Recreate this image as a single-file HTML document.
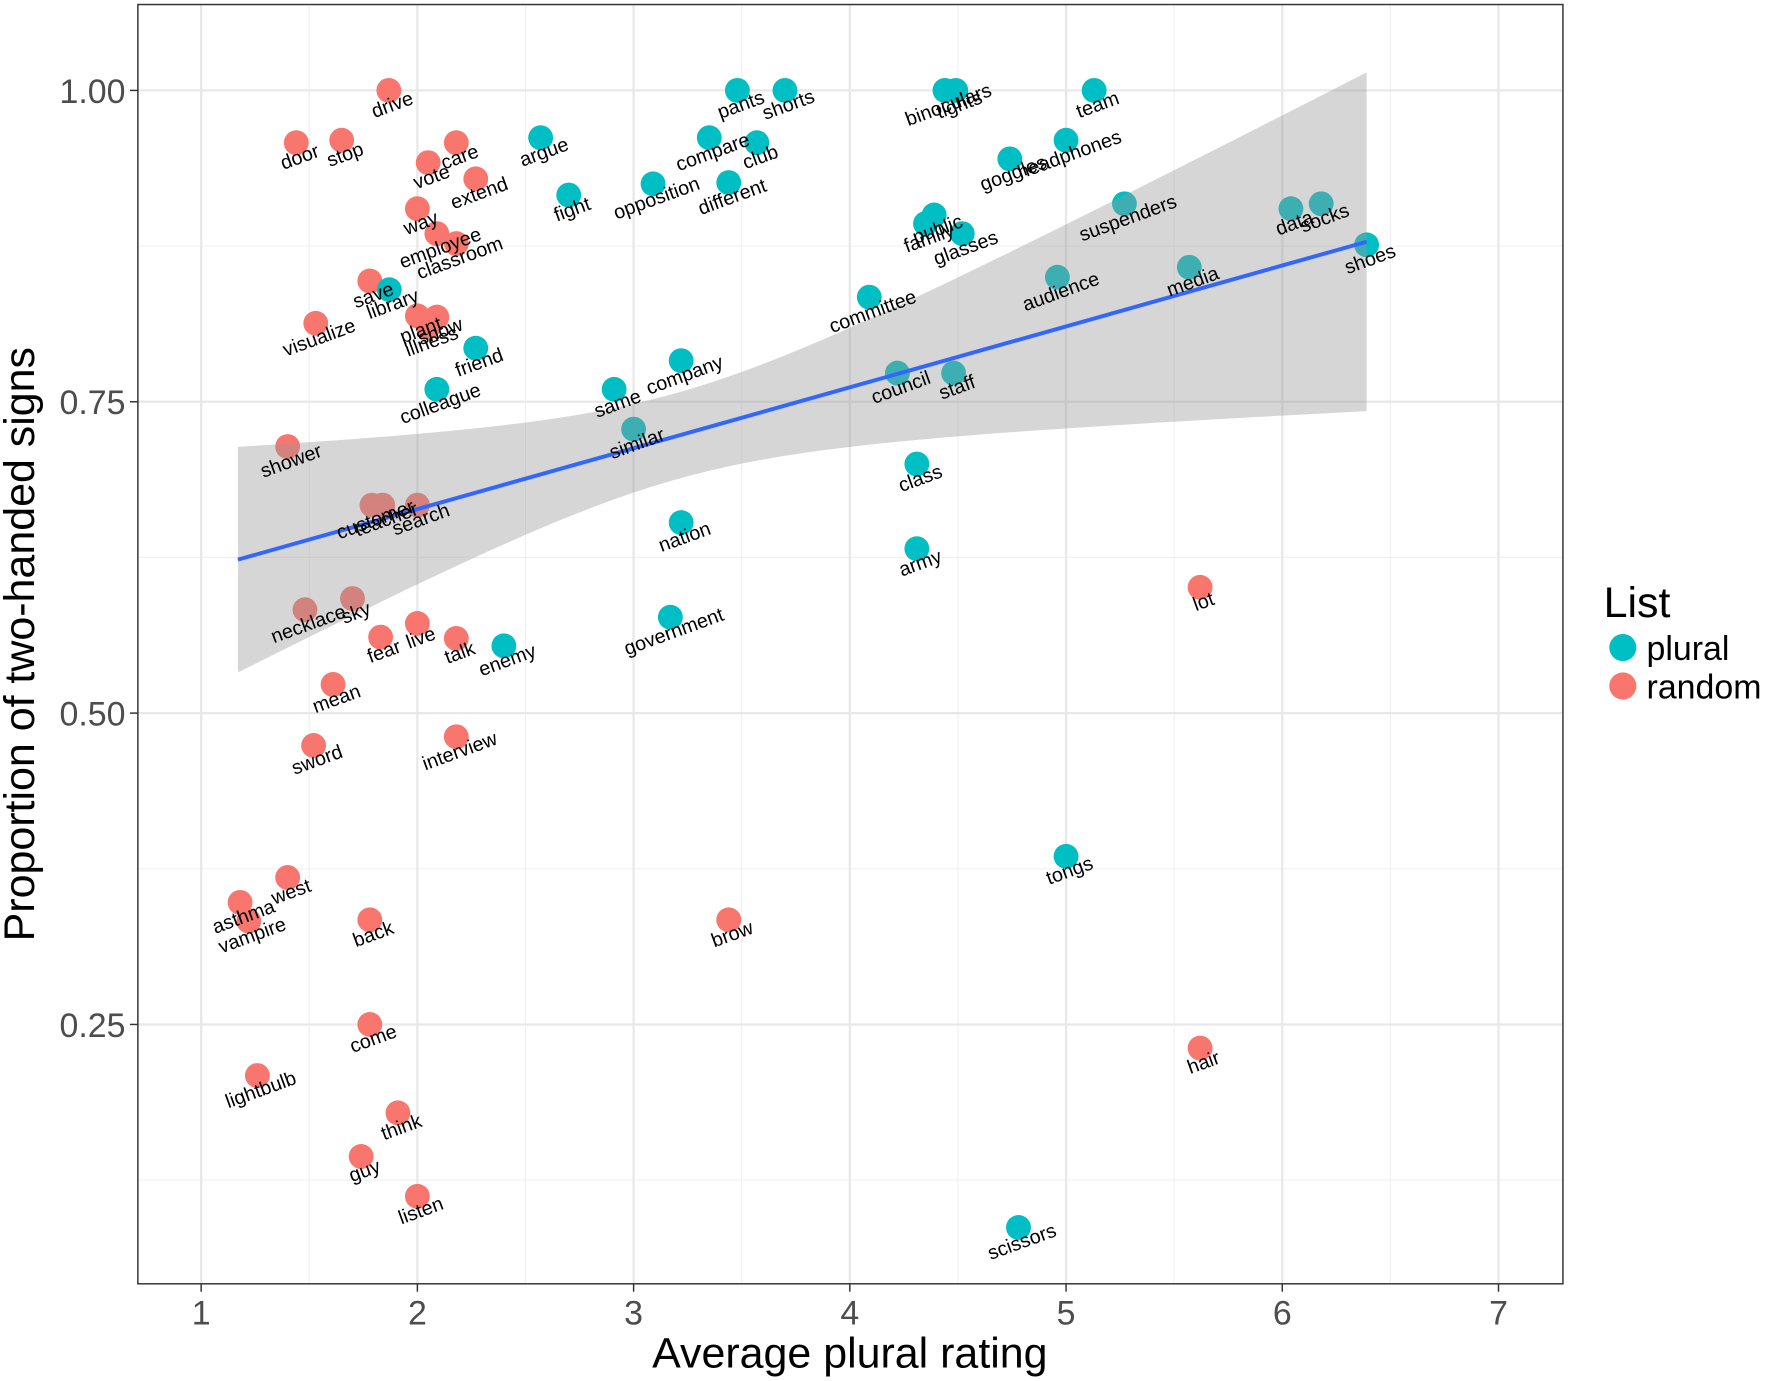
<!DOCTYPE html>
<html><head><meta charset="utf-8"><style>
html,body{margin:0;padding:0;background:#fff;}
svg{display:block;font-family:"Liberation Sans",Arial,sans-serif;}
</style></head><body>
<svg id="chart" width="1772" height="1381" viewBox="0 0 1568 1222" xmlns="http://www.w3.org/2000/svg">
<rect width="1568" height="1222" fill="#fff"/>
<g id="grid"></g>
<g id="points"></g>
<g id="band"></g>
<g id="labels"></g>
<rect x="122" y="4" width="1261" height="1132" fill="none" stroke="#333" stroke-width="1.3"/>
<g id="axes"></g>
<text x="30" y="570" font-size="38" text-anchor="middle" transform="rotate(-90 30 570)" fill="#000">Proportion of two-handed signs</text>
<text x="752" y="1210" font-size="38" text-anchor="middle" fill="#000">Average plural rating</text>
<g>
<text x="1419" y="546" font-size="38" fill="#000">List</text>
<circle cx="1436" cy="573" r="12" fill="#00BFC4"/>
<text x="1457" y="584" font-size="30" fill="#000">plural</text>
<circle cx="1436" cy="607" r="12" fill="#F8766D"/>
<text x="1457" y="618" font-size="30" fill="#000">random</text>
</g>
</svg>
<script>
const randomWords=["drive","door","stop","vote","care","extend","way","employee","classroom","save","visualize","plant","show","illness","shower","customer","teacher","search","necklace","sky","fear","live","talk","mean","sword","interview","asthma","west","vampire","back","come","lightbulb","think","guy","listen","brow","lot","hair"];
const randomX=[1.868,1.44,1.65,2.05,2.18,2.27,2.0,2.09,2.18,1.78,1.53,2.0,2.09,2.05,1.40,1.79,1.84,2.0,1.48,1.70,1.83,2.0,2.18,1.61,1.52,2.18,1.18,1.40,1.22,1.78,1.78,1.26,1.91,1.74,2.0,3.44,5.62,5.62];
const randomY=[1.0,0.958,0.96,0.942,0.958,0.929,0.905,0.885,0.877,0.847,0.813,0.819,0.818,0.81,0.714,0.667,0.667,0.667,0.583,0.592,0.561,0.572,0.56,0.523,0.474,0.481,0.348,0.368,0.333,0.334,0.25,0.209,0.179,0.144,0.112,0.334,0.601,0.231];
const pluralWords=["argue","fight","opposition","pants","shorts","compare","club","different","binoculars","tights","team","goggles","headphones","family","public","glasses","suspenders","data","socks","shoes","committee","audience","media","library","friend","colleague","same","company","similar","council","staff","class","nation","army","government","enemy","tongs","scissors"];
const pluralX=[2.57,2.70,3.09,3.48,3.70,3.35,3.57,3.44,4.44,4.49,5.13,4.74,5.0,4.35,4.39,4.52,5.27,6.04,6.18,6.39,4.09,4.96,5.57,1.87,2.27,2.09,2.91,3.22,3.00,4.22,4.48,4.31,3.22,4.31,3.17,2.40,5.0,4.78];
const pluralY=[0.962,0.916,0.925,1.0,1.0,0.962,0.958,0.926,1.0,1.0,1.0,0.945,0.96,0.893,0.9,0.885,0.909,0.905,0.909,0.876,0.834,0.85,0.858,0.840,0.793,0.760,0.760,0.783,0.728,0.773,0.773,0.700,0.653,0.632,0.577,0.554,0.385,0.087];
const xTicks=[1,2,3,4,5,6,7];
const yTicks=[0.25,0.5,0.75,1.0];
const yTickLabels=["0.25","0.50","0.75","1.00"];
const fitEnds=[1.17,6.39];
const fitIntercept=0.566, fitSlope=0.0489;

const NS="http://www.w3.org/2000/svg";
function X(v){return 178+(v-1)*191.33;}
function Y(v){return 80+(1-v)*1102;}
function mk(tag,attrs,parent){const e=document.createElementNS(NS,tag);for(const k in attrs)e.setAttribute(k,attrs[k]);parent.appendChild(e);return e;}
const grid=document.getElementById('grid');
for(let v=1.5;v<7;v+=1){const l=mk('line',{x1:X(v),x2:X(v),y1:4,y2:1136,stroke:'#f0f0f0','stroke-width':1},grid);

}
[0.125,0.375,0.625,0.875].forEach(v=>{const l=mk('line',{x1:122,x2:1383,y1:Y(v),y2:Y(v),stroke:'#f0f0f0','stroke-width':1},grid);

});
xTicks.forEach(v=>{const l=mk('line',{x1:X(v),x2:X(v),y1:4,y2:1136,stroke:'#e8e8e8','stroke-width':2},grid);

});
yTicks.forEach(v=>{const l=mk('line',{x1:122,x2:1383,y1:Y(v),y2:Y(v),stroke:'#e8e8e8','stroke-width':2},grid);

});
const axes=document.getElementById('axes');
xTicks.forEach(v=>{const t=mk('line',{x1:X(v),x2:X(v),y1:1136,y2:1143,stroke:'#333','stroke-width':1.3},axes);


const tx=mk('text',{x:X(v),y:1172,'font-size':30,'text-anchor':'middle',fill:'#4d4d4d'},axes);tx.textContent=String(v);

});
yTicks.forEach((v,i)=>{const t=mk('line',{x1:115,x2:122,y1:Y(v),y2:Y(v),stroke:'#333','stroke-width':1.3},axes);


const tx=mk('text',{x:111,y:Y(v)+11,'font-size':30,'text-anchor':'end',fill:'#4d4d4d'},axes);tx.textContent=yTickLabels[i];

});
const pts=document.getElementById('points'), lab=document.getElementById('labels');
function series(words,xs,ys,color,nm){
 words.forEach((w,i)=>{const c=mk('circle',{cx:X(xs[i]),cy:Y(ys[i]),r:11,fill:color},pts);
 
 
 const lx=X(xs[i])+5, ly=Y(ys[i])+18;
 const t=mk('text',{x:lx,y:ly,'font-size':17.5,'text-anchor':'middle',fill:'#000',transform:'rotate(-20 '+lx+' '+ly+')'},lab);t.textContent=w;
 
 });
}
series(randomWords,randomX,randomY,'#F8766D','random');
series(pluralWords,pluralX,pluralY,'#00BFC4','plural');
const band=document.getElementById('band');
function fit(x){return fitIntercept+fitSlope*x;}
function se(x){return Math.sqrt(0.0012+0.0017*(x-3.2)*(x-3.2));}
let up=[],lo=[];
for(let k=0;k<=60;k++){const x=fitEnds[0]+(fitEnds[1]-fitEnds[0])*k/60;up.push(X(x)+','+Y(fit(x)+se(x)));lo.unshift(X(x)+','+Y(fit(x)-se(x)));}
const poly=mk('polygon',{points:up.concat(lo).join(' '),fill:'#999999','fill-opacity':0.4},band);


const fl=mk('line',{x1:X(fitEnds[0]),y1:Y(fit(fitEnds[0])),x2:X(fitEnds[1]),y2:Y(fit(fitEnds[1])),stroke:'#3366FF','stroke-width':3.5},band);


</script>
</body></html>
